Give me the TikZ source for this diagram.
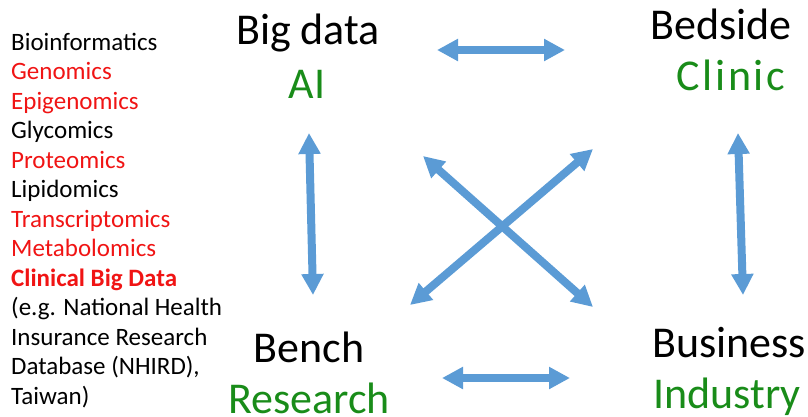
\documentclass[tikz,border=0pt]{standalone}
\usepackage{fontspec}
\setmainfont{Carlito}
\newfontfamily\widefont[LetterSpace=6]{Carlito}
\usetikzlibrary{arrows.meta}
\definecolor{arrowblue}{RGB}{91,155,213}
\definecolor{labgreen}{RGB}{25,140,25}
\definecolor{labred}{RGB}{240,20,20}
\tikzset{
  big/.style={font=\fontsize{44}{50}\selectfont, anchor=base, inner sep=0pt},
  bigblack/.style={big, text=black},
  biggreen/.style={big, text=labgreen},
  listitem/.style={font=\fontsize{25}{29}\selectfont, anchor=base west, inner sep=0pt},
  dblarrow/.style={arrowblue, line width=8pt, {Triangle[width=21pt,length=21pt]}-{Triangle[width=21pt,length=21pt]}}
}
\begin{document}
\begin{tikzpicture}[x=1pt,y=-1pt]
\useasboundingbox (0,0) rectangle (808,416);
% list
\node[listitem] (l1) at (11,50) {Bioinformatics};
\node[listitem, text=labred] (l2) at (11,79.5) {Genomics};
\node[listitem, text=labred] (l3) at (11,109) {Epigenomics};
\node[listitem] (l4) at (11,138.5) {Glycomics};
\node[listitem, text=labred] (l5) at (11,168) {Proteomics};
\node[listitem] (l6) at (11,197.5) {Lipidomics};
\node[listitem, text=labred] (l7) at (11,227) {Transcriptomics};
\node[listitem, text=labred] (l8) at (11,256.5) {Metabolomics};
\node[listitem, text=labred, font=\fontsize{25}{29}\selectfont\bfseries] (l9) at (11,286) {Clinical Big Data};
\node[listitem] (l10) at (11,315.5) {(e.g. National Health};
\node[listitem] (l11) at (11,345) {Insurance Research};
\node[listitem] (l12) at (11,374.5) {Database (NHIRD),};
\node[listitem] (l13) at (11,404) {Taiwan)};
% labels
\node[bigblack] (bigdata) at (308,44) {Big data};
\node[biggreen] (ai) at (307,98) {AI};
\node[bigblack] (bedside) at (721,39) {Bedside};
\node[biggreen, font=\widefont\fontsize{44}{50}\selectfont] (clinic) at (731,90) {Clinic};
\node[bigblack] (bench) at (309,362) {Bench};
\node[biggreen] (research) at (309,413) {Research};
\node[bigblack] (business) at (729,357) {Business};
\node[biggreen] (industry) at (727,408) {Industry};
% arrow ends
\coordinate (t1) at (437,50);
\coordinate (t2) at (565,50);
\coordinate (b1) at (442,378);
\coordinate (b2) at (570,378);
\coordinate (lv1) at (309,133);
\coordinate (lv2) at (313,295);
\coordinate (rv1) at (738,133);
\coordinate (rv2) at (743,295);
\coordinate (d1) at (423,156);
\coordinate (d2) at (593,307);
\coordinate (e1) at (410,305);
\coordinate (e2) at (593,149);
\draw[dblarrow] (t1) -- (t2);
\draw[dblarrow] (b1) -- (b2);
\draw[dblarrow] (lv1) -- (lv2);
\draw[dblarrow] (rv1) -- (rv2);
\draw[dblarrow] (d1) -- (d2);
\draw[dblarrow] (e1) -- (e2);
\end{tikzpicture}
\end{document}
